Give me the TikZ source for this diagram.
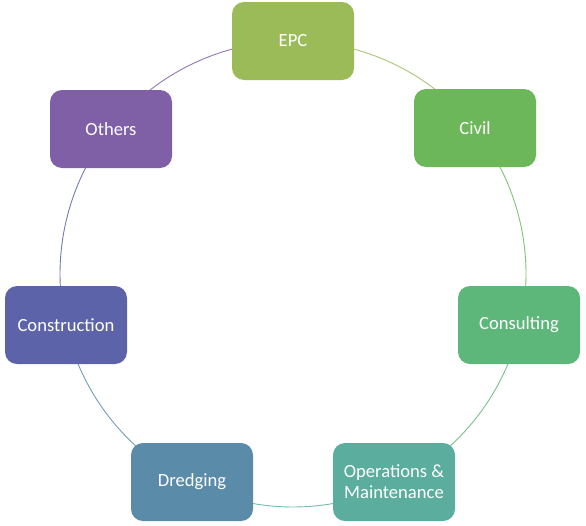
\documentclass[tikz,border=0pt]{standalone}
\usepackage{fontspec}
\setmainfont{Carlito}
\definecolor{cEPC}{HTML}{9BBB59}
\definecolor{cCivil}{HTML}{6CB75A}
\definecolor{cCons}{HTML}{5DB67A}
\definecolor{cOps}{HTML}{5BAE9E}
\definecolor{cDred}{HTML}{5A8BA8}
\definecolor{cConstr}{HTML}{5D63A9}
\definecolor{cOth}{HTML}{7F5FA6}
\begin{document}
\begin{tikzpicture}[x=1pt,y=-1pt,
  seg/.style={line width=0.9pt},
  box/.style={rounded corners=12pt, minimum width=122pt, minimum height=78pt,
    text=white, font=\fontsize{18.6pt}{21pt}\selectfont, align=center, inner sep=2pt}]
\useasboundingbox (0,0) rectangle (586,525);
\coordinate (c) at (293,274);
\def\R{233}
% arcs (angles measured with y downward => use negative angles)
\draw[seg,cEPC!85!white]     (c) ++(-90:\R) arc[start angle=-90, end angle=-38.57, radius=\R];
\draw[seg,cCivil!85!white]   (c) ++(-38.57:\R) arc[start angle=-38.57, end angle=12.86, radius=\R];
\draw[seg,cCons!85!white]    (c) ++(12.86:\R) arc[start angle=12.86, end angle=64.29, radius=\R];
\draw[seg,cOps!85!white]     (c) ++(64.29:\R) arc[start angle=64.29, end angle=115.71, radius=\R];
\draw[seg,cDred!85!white]    (c) ++(115.71:\R) arc[start angle=115.71, end angle=167.14, radius=\R];
\draw[seg,cConstr!85!white]  (c) ++(167.14:\R) arc[start angle=167.14, end angle=218.57, radius=\R];
\draw[seg,cOth!85!white]     (c) ++(218.57:\R) arc[start angle=218.57, end angle=270, radius=\R];
\node[box,fill=cEPC]    (epc)    at (293,41)  {EPC};
\node[box,fill=cCivil]  (civil)  at (475,128) {Civil};
\node[box,fill=cCons]   (consult) at (519,325) {Consulting};
\node[box,fill=cOps]    (ops)    at (394,482) {Operations \&\\Maintenance};
\node[box,fill=cDred]   (dred)   at (192,482) {Dredging};
\node[box,fill=cConstr] (constr) at (66,325)  {Construction};
\node[box,fill=cOth]    (others) at (111,129) {Others};
\end{tikzpicture}
\end{document}
